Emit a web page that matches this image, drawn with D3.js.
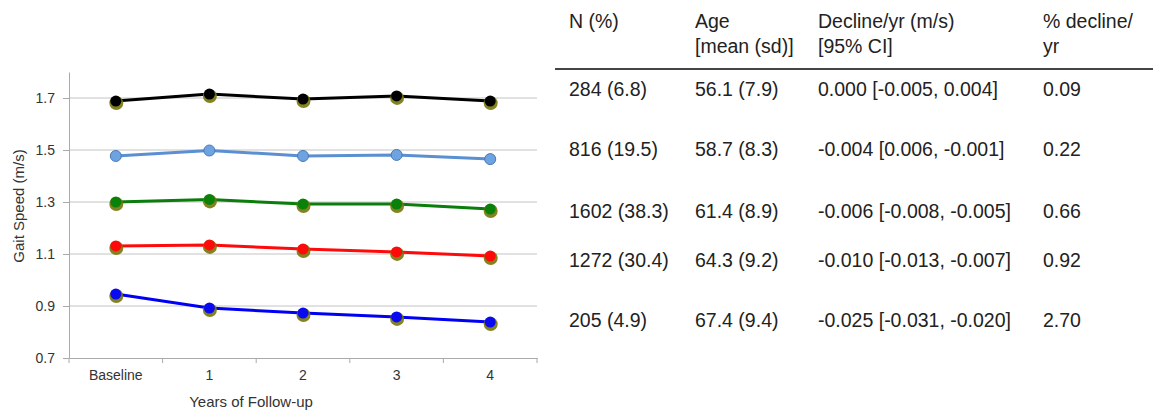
<!DOCTYPE html>
<meta charset="utf-8">
<head>
    <script type="text/javascript" src="https://d3js.org/d3.v7.min.js"></script>
    <style>
        body { margin: 0; background: #fff; }
        svg text { font-family: "Liberation Sans", Arial, sans-serif; }
    </style>
    <title>Gait speed by follow-up year</title>
</head>

<body>
    <div id="chart"></div>

    <script type="text/javascript">

        // data
        var years = ["Baseline", "1", "2", "3", "4"];
        var yTicks = [0.7, 0.9, 1.1, 1.3, 1.5, 1.7];

        var seriesBlack = [1.688, 1.715, 1.696, 1.708, 1.688];
        var seriesLightBlue = [1.477, 1.498, 1.477, 1.481, 1.465];
        var seriesGreen = [1.300, 1.310, 1.292, 1.292, 1.273];
        var seriesRed = [1.131, 1.135, 1.119, 1.108, 1.092];
        var seriesBlue = [0.946, 0.892, 0.873, 0.858, 0.838];

        var tableHeader1 = ["N (%)", "Age", "Decline/yr (m/s)", "% decline/"];
        var tableHeader2 = ["", "[mean (sd)]", "[95% CI]", "yr"];
        var colN = ["284 (6.8)", "816 (19.5)", "1602 (38.3)", "1272 (30.4)", "205 (4.9)"];
        var colAge = ["56.1 (7.9)", "58.7 (8.3)", "61.4 (8.9)", "64.3 (9.2)", "67.4 (9.4)"];
        var colDecline = ["0.000 [-0.005, 0.004]", "-0.004 [0.006, -0.001]",
                          "-0.006 [-0.008, -0.005]", "-0.010 [-0.013, -0.007]",
                          "-0.025 [-0.031, -0.020]"];
        var colPct = ["0.09", "0.22", "0.66", "0.92", "2.70"];

        var series = [
            {values: seriesBlack, line: "#000000", fill: "#000000", shadow: true},
            {values: seriesLightBlue, line: "#5a8fd2", fill: "#6ea3e2", shadow: false},
            {values: seriesGreen, line: "#0a7d0a", fill: "#0a820a", shadow: true},
            {values: seriesRed, line: "#ff0a0a", fill: "#ff0a0a", shadow: true},
            {values: seriesBlue, line: "#0000f5", fill: "#0a0af0", shadow: true}
        ];

        var w = 1153;
        var h = 416;

        var svg = d3.select("#chart")
                    .append("svg")
                    .attr("width", w)
                    .attr("height", h);

        var plotLeft = 69, plotRight = 537, plotTop = 72, plotBottom = 358;

        var x = d3.scaleBand()
                  .domain(years)
                  .range([plotLeft, plotRight]);

        var y = d3.scaleLinear()
                  .domain([0.7, 1.8])
                  .range([plotBottom, plotTop]);

        // gridlines
        svg.append("g")
           .selectAll("line")
           .data(yTicks.slice(1))
           .enter()
           .append("line")
           .attr("x1", plotLeft)
           .attr("x2", plotRight)
           .attr("y1", function(d) { return y(d); })
           .attr("y2", function(d) { return y(d); })
           .attr("stroke", "#c4c4c4")
           .attr("stroke-width", 1);

        // y axis
        var yAxis = svg.append("g")
           .attr("transform", "translate(" + plotLeft + ",0)")
           .call(d3.axisLeft(y).tickValues(yTicks).tickSize(6).tickSizeOuter(0)
                   .tickFormat(d3.format(".1f")));
        yAxis.select(".domain").attr("stroke", "#aaaaaa");
        yAxis.selectAll(".tick line").attr("stroke", "#aaaaaa");
        yAxis.selectAll(".tick text")
             .attr("x", -14)
             .attr("fill", "#333")
             .style("font-size", "14px");

        // x axis: labels centred in bands, ticks at band edges
        var xAxis = svg.append("g")
           .attr("transform", "translate(0," + plotBottom + ")")
           .call(d3.axisBottom(x).tickSize(0).tickSizeOuter(0));
        xAxis.select(".domain").attr("stroke", "#aaaaaa");
        xAxis.selectAll(".tick text")
             .attr("y", 12)
             .attr("fill", "#333")
             .style("font-size", "14px");

        var edges = years.map(function(d) { return x(d); }).concat([plotRight]);
        xAxis.selectAll(".edge")
             .data(edges)
             .enter()
             .append("line")
             .attr("class", "edge")
             .attr("x1", function(d) { return d; })
             .attr("x2", function(d) { return d; })
             .attr("y1", 0)
             .attr("y2", 5)
             .attr("stroke", "#aaaaaa");

        // axis titles
        svg.append("text")
           .attr("x", 251)
           .attr("y", 407)
           .attr("text-anchor", "middle")
           .attr("fill", "#333")
           .style("font-size", "15px")
           .text("Years of Follow-up");

        svg.append("text")
           .attr("transform", "translate(24,206) rotate(-90)")
           .attr("text-anchor", "middle")
           .attr("fill", "#333")
           .style("font-size", "15px")
           .text("Gait Speed (m/s)");

        var cx = function(d, i) { return x(years[i]) + x.bandwidth() / 2; };

        var line = d3.line()
                     .x(cx)
                     .y(function(d) { return y(d); });

        series.forEach(function(s) {
            var g = svg.append("g");

            g.append("path")
             .datum(s.values)
             .attr("d", line)
             .attr("fill", "none")
             .attr("stroke", s.line)
             .attr("stroke-width", 3);

            if (s.shadow) {
                g.selectAll(".shadow")
                 .data(s.values)
                 .enter()
                 .append("circle")
                 .attr("class", "shadow")
                 .attr("cx", function(d, i) { return cx(d, i) + 0.5; })
                 .attr("cy", function(d) { return y(d) + 2; })
                 .attr("r", 7)
                 .attr("fill", "#77750a")
                 .attr("opacity", 0.9);
            }

            g.selectAll(".dot")
             .data(s.values)
             .enter()
             .append("circle")
             .attr("class", "dot")
             .attr("cx", cx)
             .attr("cy", function(d) { return y(d); })
             .attr("r", 5.5)
             .attr("fill", s.fill)
             .attr("stroke", s.shadow ? "none" : "#4a78b4")
             .attr("stroke-width", 1);
        });

        // table
        var colX = [569, 695, 818, 1043];
        var rowY = [89, 149, 211, 260, 320];

        var table = svg.append("g")
                       .attr("fill", "#222")
                       .style("font-size", "19.5px");

        table.selectAll(".h1")
             .data(tableHeader1)
             .enter()
             .append("text")
             .attr("x", function(d, i) { return colX[i]; })
             .attr("y", 28)
             .text(function(d) { return d; });

        table.selectAll(".h2")
             .data(tableHeader2)
             .enter()
             .append("text")
             .attr("x", function(d, i) { return colX[i]; })
             .attr("y", 53)
             .text(function(d) { return d; });

        svg.append("line")
           .attr("x1", 555)
           .attr("x2", 1153)
           .attr("y1", 69)
           .attr("y2", 69)
           .attr("stroke", "#444")
           .attr("stroke-width", 2);

        [colN, colAge, colDecline, colPct].forEach(function(col, c) {
            table.selectAll(".c" + c)
                 .data(col)
                 .enter()
                 .append("text")
                 .attr("x", colX[c])
                 .attr("y", function(d, i) { return rowY[i]; })
                 .attr("dy", "0.35em")
                 .text(function(d) { return d; });
        });

    </script>

</body>

</html>
